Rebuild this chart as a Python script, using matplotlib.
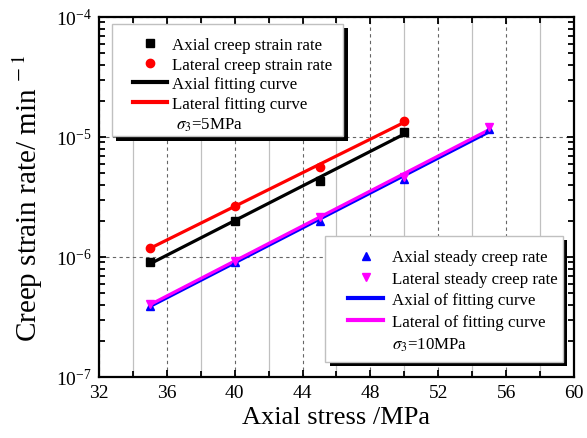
import numpy as np
import matplotlib
matplotlib.use('Agg')
import matplotlib.pyplot as plt
from matplotlib.ticker import MultipleLocator, LogLocator, NullFormatter
from matplotlib.lines import Line2D
from matplotlib.patches import Rectangle

plt.rcParams['font.family'] = 'Liberation Serif'
plt.rcParams['mathtext.fontset'] = 'stix'

# sigma3 = 5 MPa
stress_5 = [35, 40, 45, 50]
axial_5 = [9.04e-7, 1.98e-6, 4.33e-6, 1.11e-5]
lateral_5 = [1.19e-6, 2.68e-6, 5.59e-6, 1.37e-5]

# sigma3 = 10 MPa
stress_10 = [35, 40, 45, 50, 55]
axial_10 = [3.93e-7, 9.08e-7, 2.01e-6, 4.47e-6, 1.17e-5]
lateral_10 = [4.06e-7, 9.31e-7, 2.14e-6, 4.64e-6, 1.21e-5]


def exp_fit(x, y):
    # straight line in log space (exponential fit)
    p = np.polyfit(x, np.log10(y), 1)
    xs = np.array([x[0], x[-1]])
    return xs, 10 ** np.polyval(p, xs)


def shadow_box(ax, x0, y0, x1, y1):
    # white legend box with a solid black drop shadow
    dx, dy = 4.5 / 475, 4.5 / 360
    ax.add_patch(Rectangle((x0 + dx, y0 - dy), x1 - x0, y1 - y0, transform=ax.transAxes,
                           facecolor='k', edgecolor='none', zorder=5))
    ax.add_patch(Rectangle((x0, y0), x1 - x0, y1 - y0, transform=ax.transAxes,
                           facecolor='white', edgecolor='#c0c0c0', lw=1.0, zorder=5.1))


fig = plt.figure(figsize=(5.87, 4.39), dpi=100)
ax = fig.add_axes([0.1687, 0.139, 0.809, 0.820])

lw = 2.3
fx, fy = exp_fit(stress_5, axial_5)
ax.plot(fx, fy, color='k', lw=lw, zorder=3)
fx, fy = exp_fit(stress_5, lateral_5)
ax.plot(fx, fy, color='r', lw=lw, zorder=3)
fx, fy = exp_fit(stress_10, axial_10)
ax.plot(fx, fy, color='b', lw=lw, zorder=3)
fx, fy = exp_fit(stress_10, lateral_10)
ax.plot(fx, fy, color='#ff00ff', lw=lw, zorder=3)

ax.plot(stress_5, axial_5, 's', color='k', ms=6, ls='none', zorder=4)
ax.plot(stress_5, lateral_5, 'o', color='r', ms=6, ls='none', zorder=4)
ax.plot(stress_10, axial_10, '^', color='b', ms=6, ls='none', zorder=4)
ax.plot(stress_10, lateral_10, 'v', color='#ff00ff', ms=6, ls='none', zorder=4)

ax.set_yscale('log')
ax.set_xlim(32, 60)
ax.set_ylim(1e-7, 1e-4)
ax.xaxis.set_major_locator(MultipleLocator(4))
ax.xaxis.set_minor_locator(MultipleLocator(2))
ax.yaxis.set_major_locator(LogLocator(base=10, numticks=10))
ax.yaxis.set_minor_locator(LogLocator(base=10, subs=np.arange(2, 10), numticks=20))
ax.yaxis.set_minor_formatter(NullFormatter())

ax.grid(which='major', axis='both', color='#666666', ls=(0, (3, 3)), lw=0.8)
ax.grid(which='minor', axis='x', color='#c0c0c0', ls='-', lw=0.9)

ax.tick_params(which='both', direction='in', top=True, right=True, width=1.3)
ax.tick_params(which='major', length=5, labelsize=14, pad=5)
ax.tick_params(which='minor', length=4)
for s in ax.spines.values():
    s.set_linewidth(1.6)
    s.set_zorder(7)

ax.set_xlabel('Axial stress /MPa', fontsize=19)
ax.set_ylabel(r'Creep strain rate/ min$^{\;-1}$', fontsize=21)
ax.yaxis.set_label_coords(-0.114, 0.5)

blank = Line2D([], [], ls='none')

# legend for sigma3 = 5 MPa
shadow_box(ax, 0.027, 0.669, 0.514, 0.981)
h1 = [Line2D([], [], marker='s', color='k', ls='none', ms=6),
      Line2D([], [], marker='o', color='r', ls='none', ms=6),
      Line2D([], [], color='k', lw=3),
      Line2D([], [], color='r', lw=3),
      blank]
l1 = ['Axial creep strain rate', 'Lateral creep strain rate',
      'Axial fitting curve', 'Lateral fitting curve', r' $\sigma_3$=5MPa']
leg1 = ax.legend(h1, l1, loc='center left', bbox_to_anchor=(0.0716, 0.811),
                 fontsize=12.2, frameon=False, borderpad=0, borderaxespad=0,
                 labelspacing=0.22, handlelength=2.0, handletextpad=0.28)
leg1.set_zorder(6)
ax.add_artist(leg1)

# legend for sigma3 = 10 MPa
shadow_box(ax, 0.476, 0.042, 0.977, 0.392)
h2 = [Line2D([], [], marker='^', color='b', ls='none', ms=6),
      Line2D([], [], marker='v', color='#ff00ff', ls='none', ms=6),
      Line2D([], [], color='b', lw=3),
      Line2D([], [], color='#ff00ff', lw=3),
      blank]
l2 = ['Axial steady creep rate', 'Lateral steady creep rate',
      'Axial of fitting curve', 'Lateral of fitting curve', r'$\sigma_3$=10MPa']
leg2 = ax.legend(h2, l2, loc='center left', bbox_to_anchor=(0.524, 0.211),
                 fontsize=12.2, frameon=False, borderpad=0, borderaxespad=0,
                 labelspacing=0.32, handlelength=2.1, handletextpad=0.5)
leg2.set_zorder(6)

fig.savefig('out.png', dpi=100)
